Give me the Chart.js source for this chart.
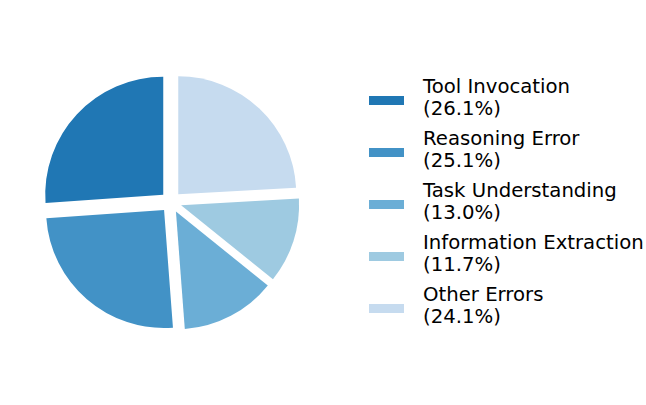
<!DOCTYPE html>
<html>
<head>
<meta charset="utf-8">
<script src="https://cdn.jsdelivr.net/npm/chart.js@4.4.1/dist/chart.umd.min.js"></script>
<style>
  html, body { margin: 0; padding: 0; background: #ffffff; }
  body { width: 646px; height: 405px; position: relative; overflow: hidden; font-family: "DejaVu Sans", sans-serif; }
  #wrap { position: absolute; left: 21px; top: 52px; width: 300px; height: 300px; }
  .item { position: absolute; left: 369px; }
  .swatch { position: absolute; left: 0; width: 35px; height: 9px; }
  .label { position: absolute; left: 54px; white-space: nowrap; font-size: 19.7px; line-height: 22.5px; color: #000; }
</style>
</head>
<body>
<div id="wrap"><canvas id="c"></canvas></div>
<div id="legend"></div>
<script>
// Data (in legend order; the pie runs counter-clockwise from 12 o'clock)
const categories = ["Tool Invocation", "Reasoning Error", "Task Understanding", "Information Extraction", "Other Errors"];
const percentages = [26.1, 25.1, 13.0, 11.7, 24.1];
const colors = ["#2077b4", "#4292c6", "#6baed6", "#9ecae1", "#c6dbef"];

const EXPLODE = 10.6; // px each wedge is pushed out along its bisector

// Explode wedges by translating along the bisector (no radius distortion)
if (Chart.ArcElement) {
  const proto = Chart.ArcElement.prototype;
  const origDraw = proto.draw;
  proto.draw = function (ctx) {
    const h = (this.startAngle + this.endAngle) / 2;
    ctx.save();
    ctx.translate(Math.cos(h) * EXPLODE, Math.sin(h) * EXPLODE);
    origDraw.call(this, ctx);
    ctx.restore();
  };
}

// Chart.js draws clockwise; reverse order to get the counter-clockwise layout
const pieLabels = categories.slice().reverse();
const pieValues = percentages.slice().reverse();
const pieColors = colors.slice().reverse();

new Chart(document.getElementById('c'), {
  type: 'pie',
  data: {
    labels: pieLabels,
    datasets: [{
      data: pieValues,
      backgroundColor: pieColors,
      borderWidth: 0,
      hoverOffset: 0
    }]
  },
  options: {
    responsive: true,
    maintainAspectRatio: false,
    animation: false,
    radius: 118,
    rotation: 0,
    layout: { padding: 0 },
    plugins: {
      legend: { display: false },
      tooltip: { enabled: false }
    },
    events: []
  }
});

// Legend
const legend = document.getElementById('legend');
categories.forEach((name, i) => {
  const top = 75.5 + 52 * i;
  const item = document.createElement('div');
  item.className = 'item';
  item.style.top = top + 'px';
  const sw = document.createElement('div');
  sw.className = 'swatch';
  sw.style.top = '20.5px';
  sw.style.background = colors[i];
  const lab = document.createElement('div');
  lab.className = 'label';
  lab.style.top = '0px';
  lab.innerHTML = name + '<br>(' + percentages[i].toFixed(1) + '%)';
  item.appendChild(sw);
  item.appendChild(lab);
  legend.appendChild(item);
});
</script>
</body>
</html>
